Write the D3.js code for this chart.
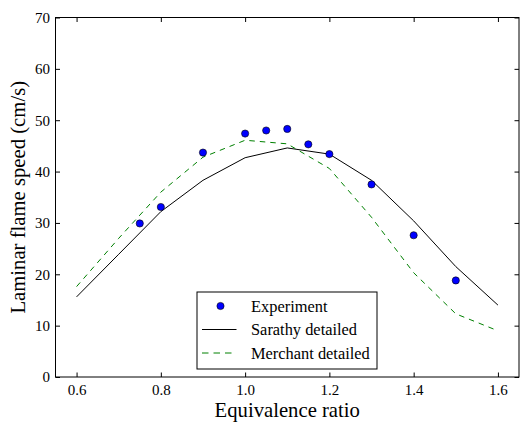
<!DOCTYPE html>
<html><head><meta charset="utf-8">
<script src="https://cdn.jsdelivr.net/npm/d3@7"></script>
<style>
body{margin:0;background:#fff}
svg{display:block}
svg text{font-family:"Liberation Serif","Times New Roman",serif !important;fill:#000}
</style></head>
<body><svg id="c" width="520" height="422" font-family="Liberation Serif"></svg>
<script>
const xTicks = [0.6, 0.8, 1.0, 1.2, 1.4, 1.6];
const yTicks = [0, 10, 20, 30, 40, 50, 60, 70];
const expPhi = [0.75, 0.8, 0.9, 1.0, 1.05, 1.1, 1.15, 1.2, 1.3, 1.4, 1.5];
const expSpeed = [29.9, 33.1, 43.7, 47.4, 48.0, 48.3, 45.3, 43.4, 37.5, 27.6, 18.8];
const modelPhi = [0.6, 0.7, 0.8, 0.9, 1.0, 1.1, 1.2, 1.3, 1.4, 1.5, 1.6];
const sarathy = [15.6, 23.9, 32.2, 38.3, 42.7, 44.6, 43.4, 38.3, 30.4, 21.5, 14.0];
const merchant = [17.6, 27.0, 36.0, 42.8, 46.1, 45.4, 40.6, 31.1, 20.3, 12.3, 9.0];
const legendLabels = ["Experiment", "Sarathy detailed", "Merchant detailed"];

const svg = d3.select("#c");
const L = 55.5, R = 519, T = 17.5, B = 377;
const x = d3.scaleLinear().domain([0.55, 1.65]).range([L, R]);
const y = d3.scaleLinear().domain([0, 70]).range([B, T]);
const FF = "'Liberation Serif', 'Times New Roman', serif";

const tl = 4.5;
const g = svg.append("g");
function styleAxis(a) {
  a.attr("font-family", FF).attr("font-size", 15);
  a.select(".domain").remove();
  a.selectAll("line").attr("stroke", "#000");
  a.selectAll("text").attr("font-family", FF).attr("font-size", 15);
}
g.append("g").attr("transform", `translate(0,${B})`)
  .call(d3.axisBottom(x).tickValues(xTicks).tickSizeInner(-tl).tickSizeOuter(0).tickFormat(d3.format(".1f")))
  .call(styleAxis)
  .call(a => a.selectAll("text").attr("y", 7).attr("dy", "0.71em"));
g.append("g").attr("transform", `translate(0,${T})`)
  .call(d3.axisTop(x).tickValues(xTicks).tickSizeInner(-tl).tickSizeOuter(0).tickFormat(""))
  .call(styleAxis);
g.append("g").attr("transform", `translate(${L},0)`)
  .call(d3.axisLeft(y).tickValues(yTicks).tickSizeInner(-tl).tickSizeOuter(0).tickFormat(d3.format("d")))
  .call(styleAxis)
  .call(a => a.selectAll("text").attr("x", -5.5));
g.append("g").attr("transform", `translate(${R},0)`)
  .call(d3.axisRight(y).tickValues(yTicks).tickSizeInner(-tl).tickSizeOuter(0).tickFormat(""))
  .call(styleAxis);

const line = d3.line().x(d => x(d[0])).y(d => y(d[1]));
const sData = modelPhi.map((p, i) => [p, sarathy[i]]);
const mData = modelPhi.map((p, i) => [p, merchant[i]]);

svg.append("path").attr("d", line(sData)).attr("fill", "none").attr("stroke", "#000").attr("stroke-width", 1);
svg.append("path").attr("d", line(mData)).attr("fill", "none").attr("stroke", "#008000").attr("stroke-width", 1).attr("stroke-dasharray", "5.5,5");

svg.append("g").selectAll("circle").data(expPhi.map((p, i) => [p, expSpeed[i]])).join("circle")
  .attr("cx", d => x(d[0])).attr("cy", d => y(d[1])).attr("r", 3.6)
  .attr("fill", "#0000ff").attr("stroke", "#000").attr("stroke-width", 0.6);

svg.append("rect").attr("x", L).attr("y", T).attr("width", R - L).attr("height", B - T)
  .attr("fill", "none").attr("stroke", "#000").attr("stroke-width", 1);

svg.append("text").attr("x", (L + R) / 2).attr("y", 416.7).attr("text-anchor", "middle")
  .attr("font-family", FF).attr("font-size", 20.7).text("Equivalence ratio");
svg.append("text").attr("transform", `translate(25,${(T + B) / 2}) rotate(-90)`).attr("text-anchor", "middle")
  .attr("font-family", FF).attr("font-size", 20.7).text("Laminar flame speed (cm/s)");

const lg = svg.append("g");
lg.append("rect").attr("x", 197).attr("y", 292).attr("width", 180).attr("height", 77)
  .attr("fill", "#fff").attr("stroke", "#000").attr("stroke-width", 1);
const rows = [306, 329.5, 353];
lg.append("circle").attr("cx", 220.5).attr("cy", rows[0]).attr("r", 3.6).attr("fill", "#0000ff").attr("stroke", "#000").attr("stroke-width", 0.6);
lg.append("line").attr("x1", 202).attr("x2", 236.5).attr("y1", rows[1]).attr("y2", rows[1]).attr("stroke", "#000").attr("stroke-width", 1);
lg.append("line").attr("x1", 202).attr("x2", 236.5).attr("y1", rows[2]).attr("y2", rows[2]).attr("stroke", "#008000").attr("stroke-width", 1).attr("stroke-dasharray", "6.5,5");
lg.selectAll("text.l").data(legendLabels).join("text").attr("class", "l")
  .attr("x", 251).attr("y", (d, i) => rows[i] + 5.5).attr("font-family", FF).attr("font-size", 16.4).text(d => d);
</script></body></html>
